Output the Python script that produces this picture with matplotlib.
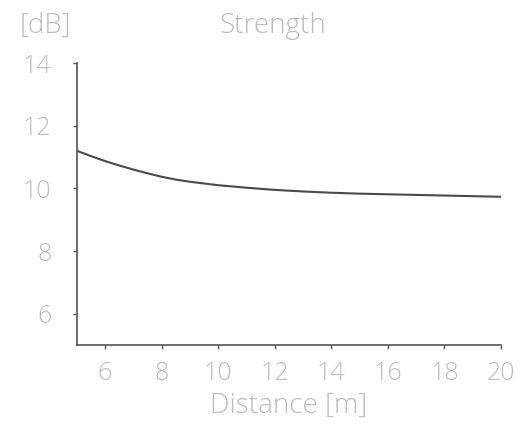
import matplotlib
matplotlib.use("Agg")
import matplotlib.pyplot as plt

distance = [5, 5.5, 6, 6.5, 7, 7.5, 8, 8.5, 9, 10, 11, 12, 13, 14, 15, 16, 17, 18, 19, 20]
strength = [11.2, 11.03, 10.87, 10.73, 10.6, 10.48, 10.37, 10.28, 10.21, 10.1, 10.02, 9.95, 9.9, 9.86, 9.83, 9.81, 9.79, 9.77, 9.75, 9.73]
xticks = [6, 8, 10, 12, 14, 16, 18, 20]
yticks = [6, 8, 10, 12, 14]

fam = ["Open Sans", "DejaVu Sans"]
tc = "#bcbcbc"
W, H = 522, 426
fig = plt.figure(figsize=(W / 100, H / 100), dpi=100)
ax = fig.add_axes([76.7 / W, 1 - 345 / H, (501 - 76.7) / W, (345 - 63) / H])
ax.plot(distance, strength, color="#4a4a4a", lw=1.5)
ax.set_xlim(5, 20)
ax.set_ylim(5, 14)
ax.set_xticks(xticks)
ax.set_yticks(yticks)
for s in ["top", "right"]:
    ax.spines[s].set_visible(False)
for s in ["left", "bottom"]:
    ax.spines[s].set_color("#555555")
    ax.spines[s].set_linewidth(1.2)
ax.tick_params(axis="both", length=3, width=1, color="#555555", labelcolor=tc, labelsize=18)
ax.tick_params(axis="y", pad=15)
ax.tick_params(axis="x", pad=8.5)
for lab in ax.get_xticklabels() + ax.get_yticklabels():
    lab.set_family(fam)
    lab.set_fontweight("light")
ax.set_xlabel("Distance [m]", family=fam, fontweight="light", color=tc, fontsize=20, labelpad=4)
fig.text(273 / W, 1 - 33 / H, "Strength", ha="center", va="baseline", family=fam, fontweight="light", color=tc, fontsize=20)
fig.text(20 / W, 1 - 33 / H, "[dB]", ha="left", va="baseline", family=fam, fontweight="light", color=tc, fontsize=20)
fig.savefig("out.png", dpi=100)
